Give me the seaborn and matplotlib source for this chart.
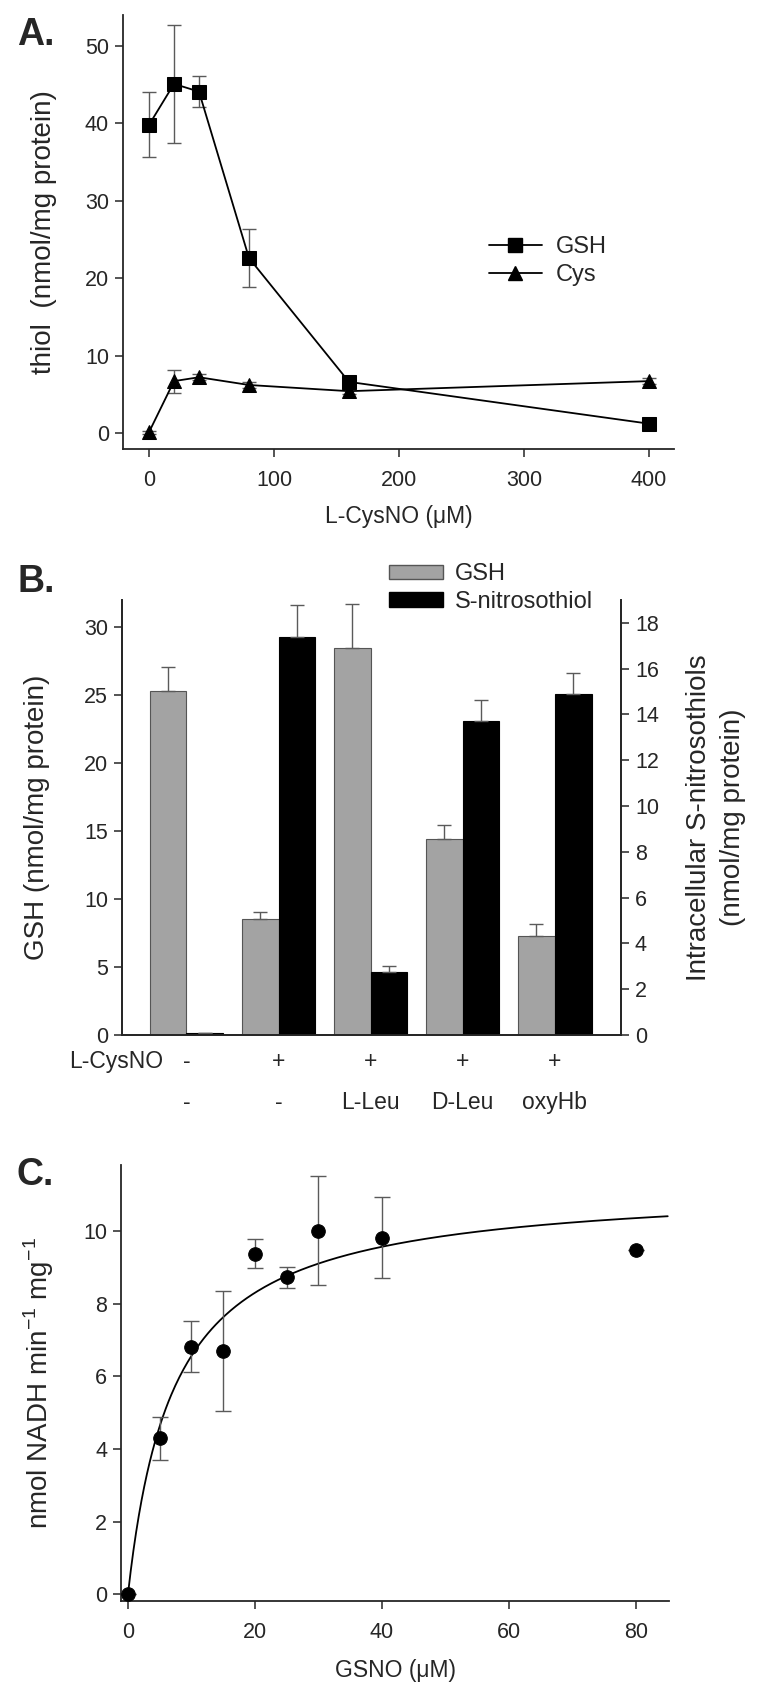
import numpy as np
import pandas as pd
import matplotlib
matplotlib.use("Agg")
import matplotlib.pyplot as plt
import matplotlib.transforms as mtrans
import seaborn as sns
from matplotlib.lines import Line2D
from matplotlib.patches import Patch

# ---- panel A: thiols vs L-CysNO
cysno_conc = [0, 20, 40, 80, 160, 400]
gsh_a = [39.8, 45.1, 44.1, 22.6, 6.6, 1.2]
gsh_a_err = [4.2, 7.6, 2.0, 3.8, 0.5, 0.0]
cys_a = [0.1, 6.7, 7.2, 6.2, 5.4, 6.7]
cys_a_err = [0.2, 1.5, 0.4, 0.4, 0.3, 0.4]

# ---- panel B: GSH and S-nitrosothiols per treatment
conditions = ["c1", "c2", "c3", "c4", "c5"]
row_cysno = ["-", "+", "+", "+", "+"]
row_extra = ["-", "-", "L-Leu", "D-Leu", "oxyHb"]
gsh_b = [25.3, 8.55, 28.5, 14.45, 7.25]
gsh_b_err = [1.8, 0.5, 3.2, 1.0, 0.95]
sno_b = [0.08, 17.4, 2.75, 13.7, 14.9]
sno_b_err = [0.0, 1.4, 0.25, 0.95, 0.9]

# ---- panel C: GSNO reductase kinetics
gsno_conc = [0, 5, 10, 15, 20, 25, 30, 40, 80]
nadh_rate = [0.0, 4.29, 6.82, 6.71, 9.39, 8.73, 10.02, 9.83, 9.5]
nadh_err = [0.0, 0.6, 0.71, 1.66, 0.39, 0.3, 1.5, 1.12, 0.0]
vmax, km = 11.3, 7.2   # fitted curve parameters

sns.set_style("ticks")
plt.rcParams["font.family"] = ["Liberation Sans", "DejaVu Sans"]
plt.rcParams["axes.linewidth"] = 1.3
plt.rcParams["xtick.major.width"] = 1.1
plt.rcParams["ytick.major.width"] = 1.1
plt.rcParams["xtick.major.size"] = 6
plt.rcParams["ytick.major.size"] = 6
plt.rcParams["xtick.major.pad"] = 9
plt.rcParams["ytick.major.pad"] = 4
plt.rcParams["xtick.direction"] = "out"
plt.rcParams["ytick.direction"] = "out"

W, H = 767, 1688
fig = plt.figure(figsize=(W / 100, H / 100), dpi=100)

def box(l, t, r, b):
    return [l / W, 1 - b / H, (r - l) / W, (b - t) / H]

tick_fs = 15.5
ylab_fs = 20
xlab_fs = 16.5
leg_fs = 17
letter_fs = 27
err_col = "#5a5a5a"

# ================= A =================
ax_a = fig.add_axes(box(123, 15, 674, 449))
df_a = pd.DataFrame({
    "conc": cysno_conc * 2,
    "value": gsh_a + cys_a,
    "thiol": ["GSH"] * len(cysno_conc) + ["Cys"] * len(cysno_conc),
})
ax_a.errorbar(cysno_conc, gsh_a, yerr=gsh_a_err, fmt="none", ecolor=err_col,
              elinewidth=1.0, capsize=5, capthick=1.0, zorder=2)
ax_a.errorbar(cysno_conc, cys_a, yerr=cys_a_err, fmt="none", ecolor=err_col,
              elinewidth=1.0, capsize=5, capthick=1.0, zorder=2)
sns.lineplot(data=df_a, x="conc", y="value", style="thiol",
             markers={"GSH": "s", "Cys": "^"}, dashes=False, color="black",
             markersize=10, linewidth=1.3, markeredgecolor="black",
             legend=False, ax=ax_a, zorder=3)
ax_a.set_xlim(-20.8, 420)
ax_a.set_ylim(-2.07, 54)
ax_a.set_xticks([0, 100, 200, 300, 400])
ax_a.set_yticks([0, 10, 20, 30, 40, 50])
ax_a.tick_params(labelsize=tick_fs)
ax_a.set_xlabel("L-CysNO (\u03bcM)", fontsize=xlab_fs, labelpad=10)
ax_a.set_ylabel("thiol  (nmol/mg protein)", fontsize=ylab_fs, va="center")
ax_a.yaxis.set_label_coords(-0.143, 0.5)
sns.despine(ax=ax_a)
handles_a = [
    Line2D([], [], color="black", lw=1.3, marker="s", markersize=10),
    Line2D([], [], color="black", lw=1.3, marker="^", markersize=10),
]
ax_a.legend(handles_a, ["GSH", "Cys"], loc="upper left", bbox_to_anchor=(0.664, 0.49),
            frameon=False, fontsize=leg_fs, handlelength=2.25, handletextpad=0.6,
            labelspacing=0.25, borderpad=0, borderaxespad=0)
fig.text(17 / W, 1 - 35 / H, "A.", fontsize=letter_fs, fontweight="bold", va="center", ha="left")

# ================= B =================
ax_b = fig.add_axes(box(122, 600, 621, 1035))
ax_b2 = ax_b.twinx()
df_b = pd.DataFrame({
    "condition": conditions * 2,
    "value": gsh_b + sno_b,
    "series": ["GSH"] * len(conditions) + ["S-nitrosothiol"] * len(conditions),
})
series_order = ["GSH", "S-nitrosothiol"]
pal = {"GSH": "#a3a3a3", "S-nitrosothiol": "#000000"}
sns.barplot(data=df_b[df_b.series == "GSH"], x="condition", y="value", hue="series",
            hue_order=series_order, order=conditions, palette=pal, width=0.8, dodge=True,
            errorbar=None, edgecolor="#555555", linewidth=0.8, legend=False, ax=ax_b)
sns.barplot(data=df_b[df_b.series == "S-nitrosothiol"], x="condition", y="value", hue="series",
            hue_order=series_order, order=conditions, palette=pal, width=0.8, dodge=True,
            errorbar=None, edgecolor="#000000", linewidth=0.8, legend=False, ax=ax_b2)

def bar_centers(ax):
    ps = sorted(ax.patches, key=lambda p: p.get_x())
    return [p.get_x() + p.get_width() / 2 for p in ps]

xb_gsh = bar_centers(ax_b)
xb_sno = bar_centers(ax_b2)
ax_b.errorbar(xb_gsh, gsh_b, yerr=[np.zeros(len(gsh_b)), gsh_b_err], fmt="none",
              ecolor=err_col, elinewidth=1.0, capsize=5, capthick=1.0)
ax_b2.errorbar(xb_sno, sno_b, yerr=[np.zeros(len(sno_b)), sno_b_err], fmt="none",
               ecolor=err_col, elinewidth=1.0, capsize=5, capthick=1.0)

ax_b.set_xlim(-0.7, 4.72)
ax_b.set_ylim(0, 32)
ax_b2.set_ylim(0, 19)
ax_b.set_yticks([0, 5, 10, 15, 20, 25, 30])
ax_b2.set_yticks(range(0, 19, 2))
ax_b.set_xticks([])
ax_b.set_xlabel("")
ax_b2.set_xlabel("")
ax_b.tick_params(labelsize=tick_fs)
ax_b2.tick_params(labelsize=tick_fs)
ax_b.set_ylabel("GSH (nmol/mg protein)", fontsize=ylab_fs, va="center")
ax_b.yaxis.set_label_coords(-0.170, 0.5)
ax_b2.set_ylabel("Intracellular S-nitrosothiols\n(nmol/mg protein)", fontsize=ylab_fs,
                 va="center", linespacing=1.4)
ax_b2.yaxis.set_label_coords(1.19, 0.5)
ax_b.spines["top"].set_visible(False)
ax_b2.spines["top"].set_visible(False)

trans = mtrans.blended_transform_factory(ax_b.transData, ax_b.transAxes)
for xc, s1, s2 in zip(range(len(conditions)), row_cysno, row_extra):
    ax_b.text(xc, -0.062, s1, transform=trans, ha="center", va="center", fontsize=16.5)
    ax_b.text(xc, -0.156, s2, transform=trans, ha="center", va="center", fontsize=16.5)
ax_b.text(0.083, -0.062, "L-CysNO", transform=ax_b.transAxes, ha="right", va="center",
          fontsize=16.5)

handles_b = [Patch(facecolor=pal["GSH"], edgecolor="#555555"),
             Patch(facecolor=pal["S-nitrosothiol"], edgecolor="#000000")]
ax_b2.legend(handles_b, series_order, loc="upper left", bbox_to_anchor=(0.535, 1.085),
             frameon=False, fontsize=leg_fs, handlelength=2.3, handleheight=0.55,
             handletextpad=0.5, labelspacing=0.25, borderpad=0, borderaxespad=0)
fig.text(17 / W, 1 - 582 / H, "B.", fontsize=letter_fs, fontweight="bold", va="center", ha="left")

# ================= C =================
ax_c = fig.add_axes(box(121, 1165, 669, 1601))
x_fit = np.linspace(0, 85, 400)
sns.lineplot(x=x_fit, y=vmax * x_fit / (km + x_fit), color="black", linewidth=1.3, ax=ax_c)
ax_c.errorbar(gsno_conc, nadh_rate, yerr=nadh_err, fmt="none", ecolor=err_col,
              elinewidth=1.0, capsize=6, capthick=1.0, zorder=2)
sns.scatterplot(x=gsno_conc, y=nadh_rate, color="black", s=95, edgecolor="black",
                zorder=3, ax=ax_c)
ax_c.set_xlim(-1.1, 85.2)
ax_c.set_ylim(-0.19, 11.83)
ax_c.set_xticks([0, 20, 40, 60, 80])
ax_c.set_yticks([0, 2, 4, 6, 8, 10])
ax_c.tick_params(labelsize=tick_fs)
ax_c.set_xlabel("GSNO (\u03bcM)", fontsize=xlab_fs, labelpad=12)
ax_c.set_ylabel("nmol NADH min$^{\\mathregular{-1}}$ mg$^{\\mathregular{-1}}$",
                fontsize=ylab_fs, va="center")
ax_c.yaxis.set_label_coords(-0.15, 0.5)
sns.despine(ax=ax_c)
fig.text(17 / W, 1 - 1175 / H, "C.", fontsize=letter_fs, fontweight="bold", va="center", ha="left")

fig.savefig("out.png", dpi=100)
